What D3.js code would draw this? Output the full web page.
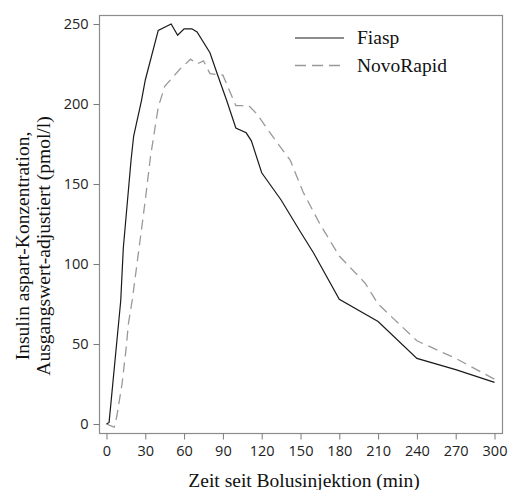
<!DOCTYPE html>
<html>
<head>
<meta charset="utf-8">
<script src="https://cdn.jsdelivr.net/npm/d3@7"></script>
<style>
  body { margin: 0; background: #fff; }
</style>
</head>
<body>
<svg width="510" height="490"></svg>
<script>
// minutes after bolus and baseline-adjusted concentration (pmol/l)
const fiaspTime = [0, 2, 11, 13, 19, 21, 27, 30, 40, 50, 55, 60, 66, 70, 80, 86, 93, 100, 108, 112, 120, 135, 150, 160, 180, 210, 240, 270, 300];
const fiaspConc = [0, 1, 77, 110, 165, 180, 202, 215, 246, 250, 243, 247, 247, 245, 232, 218, 202, 185, 182, 177, 157, 140, 120, 107, 78, 64, 41, 34, 26];

const novoTime = [0, 3, 6, 8, 12, 15, 17, 20, 26, 30, 34, 40, 45, 57, 65, 70, 75, 80, 90, 100, 110, 116, 130, 142, 152, 165, 180, 200, 210, 240, 270, 300];
const novoConc = [0, -1, -2, 5, 25, 46, 63, 78, 115, 140, 167, 198, 211, 222, 228, 225, 227, 219, 218, 199, 199, 194, 178, 165, 145, 125, 105, 88, 75, 52, 41, 28];

const xTicks = [0, 30, 60, 90, 120, 150, 180, 210, 240, 270, 300];
const yTicks = [0, 50, 100, 150, 200, 250];

const seriesNames = ['Fiasp', 'NovoRapid'];

function drawChart() {
    const svg = d3.select('svg');
    const box = { left: 99.5, right: 502.5, top: 15.5, bottom: 433.5 };

    const x = d3.scaleLinear().domain([0, 300]).range([106.5, 494.5]);
    const y = d3.scaleLinear().domain([0, 250]).range([424, 24]);

    const serif = '"Liberation Serif", "Times New Roman", serif';
    const sans = '"Open Sans", "Noto Sans", sans-serif';

    // frame
    svg.append('rect')
        .attr('x', box.left).attr('y', box.top)
        .attr('width', box.right - box.left).attr('height', box.bottom - box.top)
        .attr('fill', 'none').attr('stroke', '#8c8c8c').attr('stroke-width', 1.2);

    // axes
    const xAxis = svg.append('g')
        .attr('transform', `translate(0,${box.bottom})`)
        .call(d3.axisBottom(x).tickValues(xTicks).tickSize(6).tickPadding(6));
    const yAxis = svg.append('g')
        .attr('transform', `translate(${box.left},0)`)
        .call(d3.axisLeft(y).tickValues(yTicks).tickSize(6).tickPadding(5));

    [xAxis, yAxis].forEach(a => {
        a.select('.domain').remove();
        a.selectAll('line').attr('stroke', '#7a7a7a');
        a.selectAll('text')
            .style('font-family', sans)
            .style('font-size', '14.5px')
            .attr('fill', '#222');
    });

    // lines
    const line = d3.line().x(d => x(d[0])).y(d => y(d[1]));
    const fiasp = fiaspTime.map((t, i) => [t, fiaspConc[i]]);
    const novo = novoTime.map((t, i) => [t, novoConc[i]]);

    svg.append('path')
        .datum(novo)
        .attr('d', line)
        .attr('fill', 'none')
        .attr('stroke', '#999')
        .attr('stroke-width', 1.3)
        .attr('stroke-dasharray', '10,6');

    svg.append('path')
        .datum(fiasp)
        .attr('d', line)
        .attr('fill', 'none')
        .attr('stroke', '#1a1a1a')
        .attr('stroke-width', 1.2);

    // legend
    const legend = svg.selectAll('.legend')
        .data(seriesNames)
        .enter().append('g')
        .attr('class', 'legend')
        .attr('transform', (d, i) => `translate(295,${38 + i * 27.5})`);

    legend.append('line')
        .attr('x1', 0).attr('x2', 49)
        .attr('stroke', (d, i) => i === 0 ? '#1a1a1a' : '#999')
        .attr('stroke-width', (d, i) => i === 0 ? 1.2 : 1.3)
        .attr('stroke-dasharray', (d, i) => i === 0 ? null : '11,6');

    legend.append('text')
        .attr('x', 62)
        .attr('y', 6)
        .style('font-family', serif)
        .style('font-size', '19.5px')
        .attr('fill', '#111')
        .text(d => d);

    // axis titles
    svg.append('text')
        .attr('x', 304)
        .attr('y', 487)
        .attr('text-anchor', 'middle')
        .style('font-family', serif)
        .style('font-size', '19.5px')
        .attr('fill', '#111')
        .text('Zeit seit Bolusinjektion (min)');

    const yTitle = svg.append('text')
        .attr('transform', 'translate(29,246) rotate(-90)')
        .attr('text-anchor', 'middle')
        .style('font-family', serif)
        .style('font-size', '19.5px')
        .attr('fill', '#111');
    yTitle.append('tspan').attr('x', 0).attr('y', 0).text('Insulin aspart-Konzentration,');
    yTitle.append('tspan').attr('x', 0).attr('y', 21).text('Ausgangswert-adjustiert (pmol/l)');
}

window.addEventListener('load', drawChart);
</script>
</body>
</html>
